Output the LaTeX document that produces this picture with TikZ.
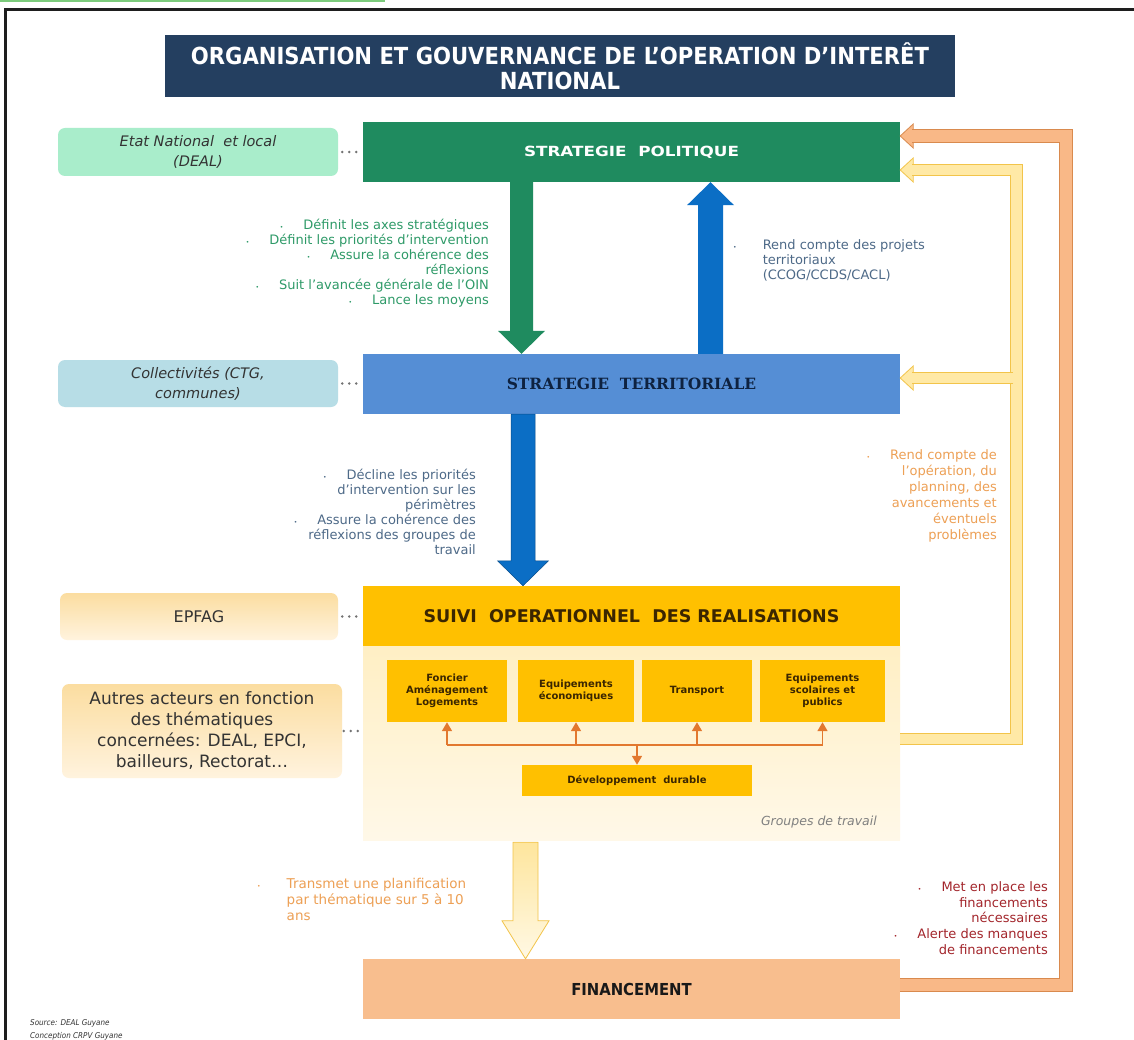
\documentclass[tikz,border=0pt]{standalone}
\usepackage{graphicx}
\usepackage{fontspec}
\setmainfont{DejaVu Sans}
\newfontfamily\condfont{DejaVu Sans Condensed}
\newfontfamily\seriffont{DejaVu Serif}
\usetikzlibrary{calc,arrows.meta}

\definecolor{navy}{HTML}{243F60}
\definecolor{navytxt}{HTML}{0E2240}
\definecolor{polgreen}{HTML}{1F8B5F}
\definecolor{mint}{HTML}{A9EDCB}
\definecolor{terrblue}{HTML}{558ED5}
\definecolor{lightblue}{HTML}{B7DDE6}
\definecolor{arrblue}{HTML}{0B6EC5}
\definecolor{gold}{HTML}{FFC000}
\definecolor{brown}{HTML}{3B2600}
\definecolor{areatop}{HTML}{FFEFC4}
\definecolor{areabot}{HTML}{FFF8E8}
\definecolor{sidetop}{HTML}{FBDDA0}
\definecolor{sidebot}{HTML}{FFF3DE}
\definecolor{finorange}{HTML}{F8BE8E}
\definecolor{orangeedge}{HTML}{D98A4E}
\definecolor{orangefill}{HTML}{F9B887}
\definecolor{yellowedge}{HTML}{F2C44A}
\definecolor{yellowfill}{HTML}{FFE9A6}
\definecolor{arrorange}{HTML}{E2782F}
\definecolor{txtgreen}{HTML}{2E9A68}
\definecolor{txtblue}{HTML}{4E6A88}
\definecolor{txtorange}{HTML}{EDA055}
\definecolor{txtred}{HTML}{A3262C}
\definecolor{framecol}{HTML}{1E1E1E}
\definecolor{topgreen}{HTML}{7CCB7C}

\newcommand{\bul}{{\fontsize{6pt}{6pt}\selectfont\textbullet}}
% vertical block arrow: style, start, tip, shaft half width, head half width, head length
\newcommand{\vblock}[6]{%
  \path[#1] let \p1=(#2), \p2=(#3), \n1={ifthenelse(\y2>\y1,1,-1)*#6} in
    ({\x1-#4pt},\y1) -- ({\x1-#4pt},{\y2-(\n1)}) -- ({\x1-#5pt},{\y2-(\n1)}) -- (\x1,\y2)
    -- ({\x1+#5pt},{\y2-(\n1)}) -- ({\x1+#4pt},{\y2-(\n1)}) -- ({\x1+#4pt},\y1) -- cycle;}

\begin{document}
\begin{tikzpicture}[x=1pt,y=-1pt,
    mainbox/.style={minimum width=537pt,minimum height=60pt,inner sep=0pt,align=center},
    sidebox/.style={rounded corners=7pt,minimum width=280pt,inner sep=0pt,align=center,
      text=black!80,font=\fontsize{14.5pt}{20pt}\selectfont},
    subbox/.style={fill=gold,minimum height=62pt,inner sep=0pt,align=center,text=brown,
      font=\fontsize{10pt}{12pt}\selectfont\bfseries},
    dots/.style={draw=black!55,line width=2.8pt,line cap=round,dash pattern=on 0pt off 7pt,
      shorten <=4pt,shorten >=4pt},
    comment/.style={inner sep=0pt,font=\fontsize{13pt}{15pt}\selectfont},
    smallarr/.style={draw=arrorange,line width=1.6pt},
    orangeband/.style={draw=orangeedge,double=orangefill,double distance=12pt,line width=0.8pt,line join=miter},
    yellowband/.style={draw=yellowedge,double=yellowfill,double distance=10.5pt,line width=0.8pt,line join=miter}]

    \useasboundingbox (0,0) rectangle (1134,1040);
    \fill[white] (0,0) rectangle (1134,1040);
    \draw[topgreen,line width=2pt] (0,1) -- (385,1);
    \draw[framecol,line width=3pt] (1134,10) -- (5,10) -- (5,1040);

    \node[fill=navy,minimum width=790pt,minimum height=62pt,text=white,align=center,
      font=\condfont\bfseries\fontsize{23.5pt}{25pt}\selectfont] (title) at (560,66)
      {ORGANISATION ET GOUVERNANCE DE L’OPERATION D’INTERÊT\\NATIONAL};

    \node[mainbox,fill=polgreen,text=white,font=\bfseries\fontsize{14pt}{15pt}\selectfont] (pol) at (631.5,152) {\scalebox{1.2}[1]{STRATEGIE\ \ POLITIQUE}};
    \node[mainbox,fill=terrblue,text=navytxt,font=\seriffont\bfseries\fontsize{15.5pt}{17pt}\selectfont] (terr) at (631.5,384) {STRATEGIE\ \ TERRITORIALE};
    \node[mainbox,fill=gold,text=brown,font=\bfseries\fontsize{17.5pt}{19pt}\selectfont] (suivi) at (631.5,616) {SUIVI\ \ OPERATIONNEL\ \ DES\ REALISATIONS};
    \node[mainbox,minimum height=194pt,top color=areatop,bottom color=areabot] (area) at (631.5,743) {};
    \node[mainbox,fill=finorange,text=black!90,font=\condfont\bfseries\fontsize{16.5pt}{18pt}\selectfont] (fin) at (631.5,989) {FINANCEMENT};

    \node[sidebox,fill=mint,minimum height=48pt] (etat) at (198,152) {\itshape Etat National\ \ et local\\\itshape (DEAL)};
    \node[sidebox,fill=lightblue,minimum height=47pt] (coll) at (198,383.5) {\itshape Collectivités (CTG,\\\itshape communes)};
    \node[sidebox,top color=sidetop,bottom color=sidebot,minimum width=278pt,minimum height=47pt,
      font=\fontsize{16pt}{20pt}\selectfont] (epfag) at (199,616.5) {EPFAG};
    \node[sidebox,top color=sidetop,bottom color=sidebot,minimum height=94pt,
      font=\fontsize{17pt}{21pt}\selectfont] (autres) at (202,731)
      {Autres acteurs en fonction\\des thématiques\\concernées: DEAL, EPCI,\\bailleurs, Rectorat…};

    \draw[dots] (etat.east) -- (etat.east -| pol.west);
    \draw[dots] (coll.east) -- (coll.east -| terr.west);
    \draw[dots] (epfag.east) -- (epfag.east -| suivi.west);
    \draw[dots,shorten <=1.5pt,shorten >=2pt] (autres.east) -- (autres.east -| area.west);

    \node[subbox,minimum width=120pt] (fon) at (447,691) {Foncier\\Aménagement\\Logements};
    \node[subbox,minimum width=116pt] (eco) at (576,691) {Equipements\\économiques};
    \node[subbox,minimum width=110pt] (tra) at (697,691) {Transport};
    \node[subbox,minimum width=125pt] (sco) at (822.5,691) {Equipements\\scolaires et\\publics};
    \node[subbox,minimum width=230pt,minimum height=31pt] (dev) at (637,780.5) {Développement\ \ durable};
    \node[anchor=east,inner sep=0pt,text=black!50,font=\itshape\fontsize{12.5pt}{14pt}\selectfont] (grp) at (877,822) {Groupes de travail};

    \coordinate (bus) at (0,745);
    \draw[smallarr] (fon.south|-bus) -- (sco.south|-bus);
    \foreach \b in {fon,eco,tra,sco}
      \draw[smallarr,-{Triangle[width=10pt,length=9pt]}] (\b.south|-bus) -- (\b.south);
    \draw[smallarr,-{Triangle[width=10pt,length=9pt]}] (dev.north|-bus) -- (dev.north);

    \vblock{fill=polgreen}{$(pol.south)+(-110,0)$}{$(terr.north)+(-110,0)$}{11.5}{23.5}{23}
    \vblock{fill=arrblue}{$(terr.north)+(79,0)$}{$(pol.south)+(79,0)$}{12.5}{23.5}{23}
    \vblock{fill=arrblue,draw=arrblue!70!black,line width=0.5pt}{$(terr.south)+(-108.5,0)$}{$(suivi.north)+(-108.5,0)$}{12}{25.5}{25}
    \vblock{top color=yellowfill!90!yellowedge,bottom color=yellowfill!30,draw=yellowedge,line width=0.8pt}{$(area.south)+(-106,2)$}{$(fin.north)+(-106,0)$}{12.5}{23.5}{38}

    \coordinate (orcorner) at (1066,136);
    \coordinate (ylcorner) at (1016.5,170);
    \filldraw[fill=orangefill,draw=orangeedge,line width=0.8pt] ($(pol.east)+(0,-16)$) -- ++(13,-12) -- ++(0,24) -- cycle;
    \draw[orangeband] ($(fin.east)+(0,-4)$) -| (orcorner) -- ($(pol.east)+(12,-16)$);
    \filldraw[fill=yellowfill,draw=yellowedge,line width=0.8pt] ($(pol.east)+(0,18)$) -- ++(13,-12) -- ++(0,24) -- cycle;
    \filldraw[fill=yellowfill,draw=yellowedge,line width=0.8pt] ($(terr.east)+(0,-6)$) -- ++(13,-12) -- ++(0,24) -- cycle;
    \draw[yellowband] ($(area.east)+(0,-4)$) -| (ylcorner) -- ($(pol.east)+(12,18)$);
    \draw[yellowband] ($(ylcorner|-terr.east)+(-3.5,-6)$) -- ($(terr.east)+(12,-6)$);

    \node[comment,text=txtgreen,anchor=north east,align=right] (greentxt) at (489,219)
      {\bul\hspace{20pt}Définit les axes stratégiques\\
       \bul\hspace{20pt}Définit les priorités d’intervention\\
       \bul\hspace{20pt}Assure la cohérence des\\
       réflexions\\
       \bul\hspace{20pt}Suit l’avancée générale de l’OIN\\
       \bul\hspace{20pt}Lance les moyens};
    \node[comment,text=txtblue,anchor=north west] (bluetxt) at (733,239)
      {\begin{tabular}{@{}l@{\hspace{26pt}}l@{}}\bul & Rend compte des projets\\ & territoriaux\\ & (CCOG/CCDS/CACL)\end{tabular}};
    \node[comment,text=txtblue,anchor=north east,align=right] (declinetxt) at (476,469)
      {\bul\hspace{20pt}Décline les priorités\\
       d’intervention sur les\\
       périmètres\\
       \bul\hspace{20pt}Assure la cohérence des\\
       réflexions des groupes de\\
       travail};
    \node[comment,text=txtorange,anchor=north east,align=right,font=\fontsize{13pt}{16pt}\selectfont] (renduetxt) at (997,449)
      {\bul\hspace{20pt}Rend compte de\\
       l’opération, du\\
       planning, des\\
       avancements et\\
       éventuels\\
       problèmes};
    \node[comment,text=txtorange,anchor=north west,font=\fontsize{13.5pt}{16pt}\selectfont] (plantxt) at (257,877)
      {\begin{tabular}{@{}l@{\hspace{26pt}}l@{}}\bul & Transmet une planification\\ & par thématique sur 5 à 10\\ & ans\end{tabular}};
    \node[comment,text=txtred,anchor=north east,align=right,font=\fontsize{13pt}{15.7pt}\selectfont] (redtxt) at (1048,881.5)
      {\bul\hspace{20pt}Met en place les\\
       financements\\
       nécessaires\\
       \bul\hspace{20pt}Alerte des manques\\
       de financements};
    \node[inner sep=0pt,anchor=north west,align=left,text=black!80,font=\condfont\itshape\fontsize{8pt}{13pt}\selectfont] (source) at (30,1019)
      {Source: DEAL Guyane\\Conception CRPV Guyane};
\end{tikzpicture}
\end{document}
